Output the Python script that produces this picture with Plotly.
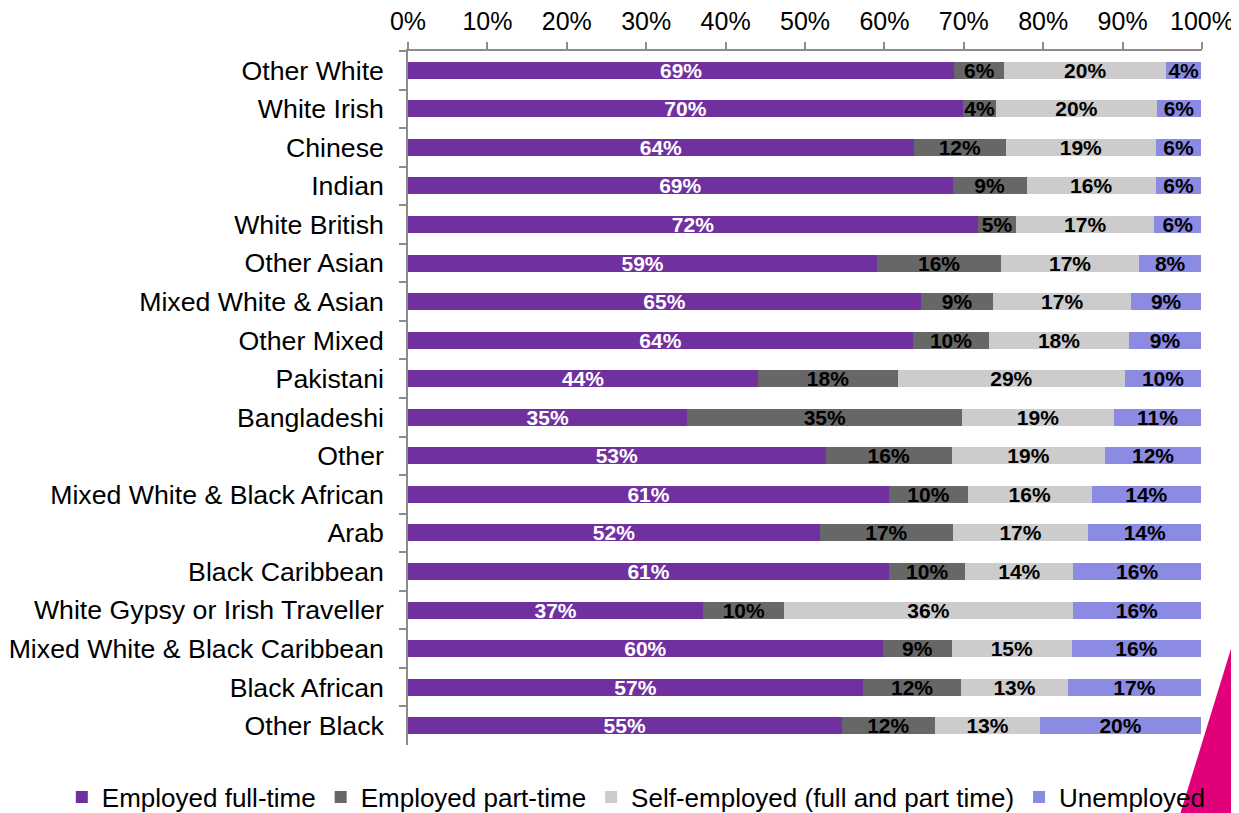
import plotly.graph_objects as go

categories = [
    "Other White", "White Irish", "Chinese", "Indian", "White British",
    "Other Asian", "Mixed White & Asian", "Other Mixed", "Pakistani",
    "Bangladeshi", "Other", "Mixed White & Black African", "Arab",
    "Black Caribbean", "White Gypsy or Irish Traveller",
    "Mixed White & Black Caribbean", "Black African", "Other Black",
]

full_time = [68.8, 69.9, 63.7, 68.6, 71.8, 59.1, 64.6, 63.6, 44.1, 35.2,
             52.6, 60.6, 51.9, 60.6, 37.2, 59.8, 57.3, 54.6]
part_time = [6.3, 4.2, 11.6, 9.3, 4.8, 15.6, 9.1, 9.6, 17.6, 34.6,
             15.9, 9.9, 16.7, 9.6, 10.2, 8.7, 12.4, 11.8]
self_employed = [20.4, 20.2, 18.9, 16.3, 17.4, 17.4, 17.4, 17.6, 28.6, 19.1,
                 19.3, 15.6, 17.1, 13.6, 36.3, 15.1, 13.4, 13.2]
unemployed = [4.4, 5.6, 5.7, 5.7, 5.9, 7.8, 8.8, 9.1, 9.6, 11.0,
              12.1, 13.8, 14.2, 16.1, 16.2, 16.3, 16.8, 20.3]

series = [
    ("Employed full-time", full_time, "#7030A0", "white"),
    ("Employed part-time", part_time, "#676767", "black"),
    ("Self-employed (full and part time)", self_employed, "#CCCCCC", "black"),
    ("Unemployed", unemployed, "#8B8BE4", "black"),
]

x_ticks = list(range(0, 101, 10))

FONT = "Liberation Sans, Arial, sans-serif"

fig = go.Figure()
for name, vals, color, tcolor in series:
    fig.add_trace(go.Bar(
        name=name,
        y=categories,
        x=vals,
        orientation="h",
        marker=dict(color=color, line=dict(width=0)),
        text=[f"{round(v):.0f}%" for v in vals],
        textposition="inside",
        insidetextanchor="middle",
        textangle=0,
        constraintext="none",
        textfont=dict(family=FONT, size=21, color=tcolor, weight="bold"),
        cliponaxis=False,
    ))

# page body has an 8px margin: figure is 1231x805 so it fits the 1239x813 window
fig.update_layout(
    barmode="stack",
    bargap=0.56,
    width=1231,
    height=805,
    margin=dict(l=400, r=37, t=43, b=68, autoexpand=False),
    paper_bgcolor="white",
    plot_bgcolor="white",
    font=dict(family=FONT, color="black"),
    uniformtext=dict(mode="show", minsize=21),
    showlegend=True,
    legend=dict(
        orientation="h",
        xref="paper", yref="paper",
        x=-0.436, xanchor="left",
        y=-0.075, yanchor="middle",
        font=dict(family=FONT, size=26, color="black"),
        itemwidth=30,
        traceorder="normal",
        bgcolor="rgba(0,0,0,0)",
    ),
    xaxis=dict(
        side="top",
        range=[0, 100],
        tickvals=x_ticks,
        ticktext=[f"{t}%" for t in x_ticks],
        ticks="outside",
        ticklen=7,
        tickcolor="#8C8C8C",
        tickwidth=1.5,
        showline=True,
        linecolor="#8C8C8C",
        linewidth=1.5,
        showgrid=False,
        zeroline=False,
        tickfont=dict(family=FONT, size=25, color="black"),
        ticklabelstandoff=2,
        automargin=False,
        fixedrange=True,
    ),
    yaxis=dict(
        autorange="reversed",
        categoryorder="array",
        categoryarray=categories,
        ticks="outside",
        tickson="boundaries",
        ticklen=7,
        tickcolor="#8C8C8C",
        tickwidth=1.5,
        showline=True,
        linecolor="#8C8C8C",
        linewidth=1.5,
        showgrid=False,
        tickfont=dict(family=FONT, size=26.7, color="black"),
        ticklabelstandoff=17,
        automargin=False,
        fixedrange=True,
    ),
)

# decorative magenta corner shape (slide artwork)
fig.add_shape(
    type="path",
    xref="paper", yref="paper",
    path="M 0.9723 -0.1 L 1.06 -0.1 L 1.06 0.176 L 1.0466 0.176 Z",
    fillcolor="#E2007A",
    line=dict(width=0),
    layer="above",
)

fig.write_html("out.html")
